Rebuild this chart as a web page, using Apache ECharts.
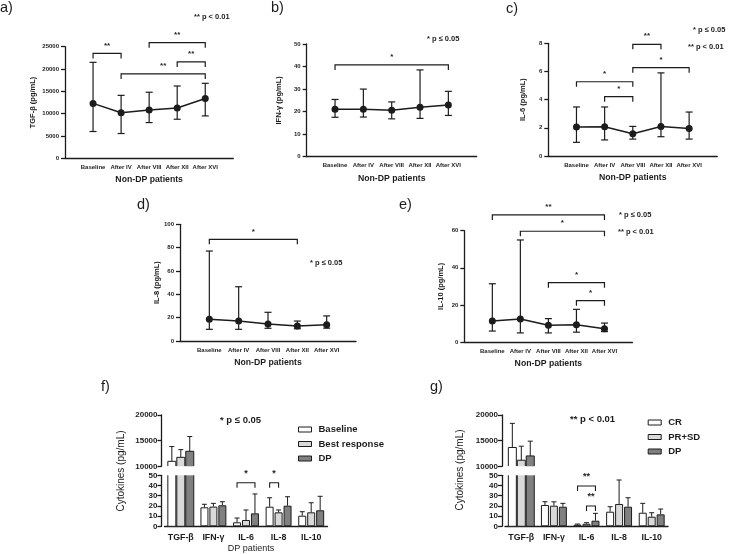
<!DOCTYPE html>
<html>
<head>
<meta charset="utf-8">
<script src="https://cdn.jsdelivr.net/npm/echarts@6/dist/echarts.min.js"></script>
<style>
  html, body { margin: 0; background: #fff; }
  #chart { width: 729px; height: 554px; }
</style>
</head>
<body>
<div id="chart"></div>
<script>
// time points of the non-DP follow-up
const timepoints = ['Baseline', 'After IV', 'After VIII', 'After XII', 'After XVI'];

// a) TGF-beta
const tgfMean = [12300, 10200, 10800, 11250, 13400];
const tgfLow = [6000, 5550, 8000, 8750, 9500];
const tgfHigh = [21500, 14100, 14800, 16200, 16800];
const tgfBrackets = [[1, 2, 23500, '**'], [3, 5, 25900, '**'], [4, 5, 21600, '**'], [2, 5, 18900, '**']];

// b) IFN-gamma
const ifnMean = [21.0, 21.1, 20.6, 21.9, 22.9];
const ifnLow = [17.5, 17.6, 16.8, 17.0, 18.3];
const ifnHigh = [25.4, 30.0, 24.3, 38.5, 29.0];
const ifnBrackets = [[1, 5, 40.7, '*']];

// c) IL-6
const il6Mean = [2.05, 2.08, 1.58, 2.1, 1.95];
const il6Low = [0.97, 1.14, 1.2, 1.37, 1.2];
const il6High = [3.48, 3.48, 2.1, 5.9, 3.12];
const il6Brackets = [[1, 3, 5.27, '*'], [2, 3, 4.21, '*'], [3, 4, 7.93, '**'], [3, 5, 6.27, '*']];

// d) IL-8
const il8Mean = [18.6, 17.2, 14.6, 12.9, 14.0];
const il8Low = [10.0, 10.0, 10.9, 10.5, 11.0];
const il8High = [77.1, 46.5, 24.6, 17.1, 21.5];
const il8Brackets = [[1, 4, 87.1, '*']];

// e) IL-10
const il10Mean = [11.3, 12.4, 9.0, 9.3, 7.2];
const il10Low = [5.9, 4.9, 4.9, 5.3, 5.6];
const il10High = [31.4, 55.0, 12.6, 17.6, 10.2];
const il10Brackets = [[1, 5, 68.5, '**'], [2, 5, 59.7, '*'], [3, 5, 32.0, '*'], [4, 5, 22.3, '*']];

// f) / g) bar panels
const cytokines = ['TGF-β', 'IFN-γ', 'IL-6', 'IL-8', 'IL-10'];
const upperRange = [10000, 20000];
const lowerRange = [0, 50];

const fNames = ['Baseline', 'Best response', 'DP'];
const fBaseline = [10970, 18.6, 3.9, 19.2, 10.4];
const fBaselineErr = [13850, 21.6, 8.1, 28.0, 14.3];
const fBest = [11750, 19.3, 6.2, 13.7, 13.7];
const fBestErr = [13250, 22.5, 16.0, 16.0, 23.1];
const fDP = [12930, 20.6, 12.7, 20.2, 15.7];
const fDPErr = [15800, 24.1, 31.7, 29.0, 29.4];
const fBrackets = [[2, 0, 2, 42.7, '*'], [3, 0, 1, 42.7, '*']];

const gNames = ['CR', 'PR+SD', 'DP'];
const gCR = [13670, 20.9, 1.6, 14.3, 13.3];
const gCRErr = [18370, 24.1, 2.2, 19.2, 22.5];
const gPRSD = [11180, 20.2, 2.5, 21.9, 9.4];
const gPRSDErr = [13920, 24.0, 3.5, 45.4, 13.3];
const gDP = [12020, 19.2, 5.5, 19.2, 11.7];
const gDPErr = [14900, 22.5, 12.7, 28.0, 16.9];
const gBrackets = [[2, 0, 2, 39.5, '**'], [2, 1, 2, 19.9, '**']];

const ink = '#1c1c1c';
const fam = "'Liberation Sans', Arial, sans-serif";
const barFills = ['#ffffff', '#d9d9d9', '#808080'];
const barW = 8;
const barGap = '12%';

const linePanels = [
  { grid: { left: 65, top: 46.7, width: 168.3, height: 111.6 }, name: 'TGF-β (pg/mL)', max: 25000, step: 5000, nameGap: 28,
    mean: tgfMean, low: tgfLow, high: tgfHigh, brackets: tgfBrackets },
  { grid: { left: 306.7, top: 44, width: 170, height: 112.7 }, name: 'IFN-γ (pg/mL)', max: 50, step: 10, nameGap: 24,
    mean: ifnMean, low: ifnLow, high: ifnHigh, brackets: ifnBrackets },
  { grid: { left: 548.3, top: 43.3, width: 169, height: 112.7 }, name: 'IL-6 (pg/mL)', max: 8, step: 2, nameGap: 21,
    mean: il6Mean, low: il6Low, high: il6High, brackets: il6Brackets },
  { grid: { left: 180, top: 224.3, width: 176, height: 116.7 }, name: 'IL-8 (pg/mL)', max: 100, step: 20, nameGap: 19,
    mean: il8Mean, low: il8Low, high: il8High, brackets: il8Brackets },
  { grid: { left: 464.3, top: 230.7, width: 168.2, height: 111.3 }, name: 'IL-10 (pg/mL)', max: 60, step: 20, nameGap: 19,
    mean: il10Mean, low: il10Low, high: il10High, brackets: il10Brackets }
];

const barPanels = [
  { left: 164.5, names: fNames, values: [fBaseline, fBest, fDP], errs: [fBaselineErr, fBestErr, fDPErr], brackets: fBrackets, xName: 'DP patients' },
  { left: 505, names: gNames, values: [gCR, gPRSD, gDP], errs: [gCRErr, gPRSDErr, gDPErr], brackets: gBrackets, xName: '' }
];

const axisLine = { show: true, onZero: false, lineStyle: { color: ink, width: 1.3 } };
const tickStyle = { show: true, length: 4, lineStyle: { color: ink, width: 1.3 } };
const plain = v => String(v);

const grids = [], xAxes = [], yAxes = [], series = [];

function line(x1, y1, x2, y2, w) {
  return { type: 'line', shape: { x1, y1, x2, y2 }, style: { stroke: ink, lineWidth: w } };
}

// line panels a-e
linePanels.forEach((p, i) => {
  grids.push(Object.assign({ outerBoundsMode: 'none', containLabel: false }, p.grid));
  xAxes.push({
    type: 'value', gridIndex: i, min: 0, max: 6, interval: 1,
    name: 'Non-DP patients', nameLocation: 'middle', nameGap: 17, nameMoveOverlap: false,
    nameTextStyle: { fontFamily: fam, fontSize: 8.7, fontWeight: 'bold', color: ink },
    axisLine, axisTick: { show: false }, splitLine: { show: false },
    axisLabel: { formatter: v => timepoints[v - 1] || '', fontFamily: fam, fontSize: 6, fontWeight: 'bold', color: ink, margin: 6, hideOverlap: false }
  });
  yAxes.push({
    type: 'value', gridIndex: i, min: 0, max: p.max, interval: p.step,
    name: p.name, nameLocation: 'middle', nameGap: p.nameGap, nameMoveOverlap: false,
    nameTextStyle: { fontFamily: fam, fontSize: 7.5, fontWeight: 'bold', color: ink },
    axisLine, axisTick: tickStyle, splitLine: { show: false },
    axisLabel: { formatter: plain, fontFamily: fam, fontSize: 6, fontWeight: 'bold', color: ink, margin: 6 }
  });
  series.push({
    type: 'line', xAxisIndex: i, yAxisIndex: i, z: 3, silent: true,
    data: p.mean.map((v, k) => [k + 1, v]),
    symbol: 'circle', symbolSize: 7,
    lineStyle: { color: ink, width: 1.5 }, itemStyle: { color: ink }
  });
  series.push({
    type: 'custom', xAxisIndex: i, yAxisIndex: i, z: 2, silent: true, clip: false,
    data: p.mean.map((v, k) => [k + 1, p.low[k], p.high[k]]),
    renderItem(params, api) {
      const lo = api.coord([api.value(0), api.value(1)]);
      const hi = api.coord([api.value(0), api.value(2)]);
      return { type: 'group', children: [
        line(lo[0], lo[1], hi[0], hi[1], 1.2),
        line(lo[0] - 3.5, lo[1], lo[0] + 3.5, lo[1], 1.2),
        line(hi[0] - 3.5, hi[1], hi[0] + 3.5, hi[1], 1.2)
      ] };
    }
  });
  series.push({
    type: 'custom', xAxisIndex: i, yAxisIndex: i, z: 4, silent: true, clip: false,
    data: p.brackets.map(b => [b[0], b[2], b[1]]),
    renderItem(params, api) {
      const b = p.brackets[params.dataIndex];
      const p1 = api.coord([b[0], b[2]]);
      const p2 = api.coord([b[1], b[2]]);
      return { type: 'group', children: [
        { type: 'polyline', shape: { points: [[p1[0], p1[1] + 5], p1, p2, [p2[0], p2[1] + 5]] },
          style: { stroke: ink, lineWidth: 1.2, fill: null } },
        { type: 'text', x: (p1[0] + p2[0]) / 2, y: p1[1] - 8,
          style: { text: b[3], fill: ink, font: 'bold 8px ' + fam, align: 'center', verticalAlign: 'middle' } }
      ] };
    }
  });
});

// bar panels f, g (broken y axis: upper and lower ranges)
barPanels.forEach((bp, j) => {
  const top = 5 + j * 2, bot = top + 1;
  grids.push({ left: bp.left, top: 415, width: 163, height: 51.3, outerBoundsMode: 'none', containLabel: false });
  grids.push({ left: bp.left, top: 475.3, width: 163, height: 51, outerBoundsMode: 'none', containLabel: false });
  xAxes.push({ type: 'category', gridIndex: top, data: cytokines, show: false });
  xAxes.push({
    type: 'category', gridIndex: bot, data: cytokines,
    name: bp.xName, nameLocation: 'middle', nameGap: 18, nameMoveOverlap: false,
    nameTextStyle: { fontFamily: fam, fontSize: 9, color: ink, padding: [0, 0, 0, 10] },
    axisLine, axisTick: { show: false },
    axisLabel: { fontFamily: fam, fontSize: 8.8, fontWeight: 'bold', color: ink, margin: 7, interval: 0 }
  });
  const yBase = {
    type: 'value', offset: 3, axisLine, axisTick: tickStyle, splitLine: { show: false },
    axisLabel: { formatter: plain, fontFamily: fam, fontSize: 8, fontWeight: 'bold', color: ink, margin: 4 }
  };
  yAxes.push(Object.assign({ gridIndex: top, min: upperRange[0], max: upperRange[1], interval: 5000 }, yBase));
  yAxes.push(Object.assign({ gridIndex: bot, min: lowerRange[0], max: lowerRange[1], interval: 10 }, yBase));

  bp.names.forEach((nm, k) => {
    const vals = bp.values[k], errs = bp.errs[k];
    const barStyle = { color: barFills[k], borderColor: ink, borderWidth: 1 };
    // the broken TGF-beta bar gets its outline from the custom series below (open at the break)
    const open = v => ({ value: v, itemStyle: { borderWidth: 0 } });
    series.push({
      type: 'bar', name: nm, xAxisIndex: top, yAxisIndex: top, barWidth: barW, barGap, clip: true, silent: true,
      itemStyle: barStyle, data: vals.map((v, i) => (i === 0 ? open(v) : '-'))
    });
    series.push({
      type: 'bar', name: nm, xAxisIndex: bot, yAxisIndex: bot, barWidth: barW, barGap, clip: true, silent: true,
      itemStyle: barStyle, data: vals.map((v, i) => (i === 0 ? open(v) : v))
    });
    // upper part: outline + whisker of the broken bar
    series.push({
      type: 'custom', xAxisIndex: top, yAxisIndex: top, z: 3, silent: true, clip: true,
      data: [[0, vals[0], errs[0]]],
      renderItem(params, api) {
        const lay = api.barLayout({ count: 3, barWidth: barW, barGap })[k];
        const base = api.coord([api.value(0), api.value(1)]);
        const tip = api.coord([api.value(0), api.value(2)]);
        const floor = api.coord([api.value(0), upperRange[0]])[1];
        const x0 = base[0] + lay.offset, x1 = x0 + lay.width, x = base[0] + lay.offsetCenter;
        return { type: 'group', children: [
          { type: 'polyline', shape: { points: [[x0, floor], [x0, base[1]], [x1, base[1]], [x1, floor]] },
            style: { stroke: ink, lineWidth: 1, fill: null } },
          line(x, base[1], x, tip[1], 1),
          line(x - 2.5, tip[1], x + 2.5, tip[1], 1)
        ] };
      }
    });
    // lower part: side outline of the broken bar
    series.push({
      type: 'custom', xAxisIndex: bot, yAxisIndex: bot, z: 3, silent: true, clip: false,
      data: [[0, lowerRange[0], lowerRange[1]]],
      renderItem(params, api) {
        const lay = api.barLayout({ count: 3, barWidth: barW, barGap })[k];
        const lo = api.coord([api.value(0), api.value(1)]);
        const hi = api.coord([api.value(0), api.value(2)]);
        const x0 = lo[0] + lay.offset, x1 = x0 + lay.width;
        return { type: 'polyline', shape: { points: [[x0, hi[1]], [x0, lo[1]], [x1, lo[1]], [x1, hi[1]]] },
          style: { stroke: ink, lineWidth: 1, fill: null } };
      }
    });
    // lower part: whiskers
    series.push({
      type: 'custom', xAxisIndex: bot, yAxisIndex: bot, z: 3, silent: true, clip: true,
      data: [1, 2, 3, 4].map(i => [i, vals[i], errs[i]]),
      renderItem(params, api) {
        const lay = api.barLayout({ count: 3, barWidth: barW, barGap })[k];
        const base = api.coord([api.value(0), api.value(1)]);
        const tip = api.coord([api.value(0), api.value(2)]);
        const x = base[0] + lay.offsetCenter;
        return { type: 'group', children: [
          line(x, base[1], x, tip[1], 1),
          line(x - 2.5, tip[1], x + 2.5, tip[1], 1)
        ] };
      }
    });
  });

  series.push({
    type: 'custom', xAxisIndex: bot, yAxisIndex: bot, z: 4, silent: true, clip: false,
    data: bp.brackets.map(b => [b[0], b[3]]),
    renderItem(params, api) {
      const b = bp.brackets[params.dataIndex];
      const lay = api.barLayout({ count: 3, barWidth: barW, barGap });
      const c = api.coord([b[0], b[3]]);
      const xa = c[0] + lay[b[1]].offsetCenter, xb = c[0] + lay[b[2]].offsetCenter;
      return { type: 'group', children: [
        { type: 'polyline', shape: { points: [[xa, c[1] + 5], [xa, c[1]], [xb, c[1]], [xb, c[1] + 5]] },
          style: { stroke: ink, lineWidth: 1.1, fill: null } },
        { type: 'text', x: (xa + xb) / 2, y: c[1] - 9,
          style: { text: b[4], fill: ink, font: 'bold 9px ' + fam, align: 'center', verticalAlign: 'middle' } }
      ] };
    }
  });
});

function label(text, x, y, size, weight) {
  return { type: 'text', x, y, silent: true,
    style: { text, fill: ink, font: (weight || 'bold') + ' ' + size + 'px ' + fam, verticalAlign: 'middle' } };
}

const graphics = [
  label('a)', 0, 8, 14.5, 'normal'),
  label('b)', 271, 8, 14.5, 'normal'),
  label('c)', 506, 9, 14.5, 'normal'),
  label('d)', 137, 205, 14.5, 'normal'),
  label('e)', 399, 205, 14.5, 'normal'),
  label('f)', 101, 386.5, 14.5, 'normal'),
  label('g)', 430, 386.5, 14.5, 'normal'),
  label('** p < 0.01', 194, 17, 7.5),
  label('* p ≤ 0.05', 427, 39, 7.5),
  label('* p ≤ 0.05', 693, 30, 7.5),
  label('** p < 0.01', 688, 46.7, 7.5),
  label('* p ≤ 0.05', 310, 263.3, 7.5),
  label('* p ≤ 0.05', 619, 215, 7.5),
  label('** p < 0.01', 618, 232.3, 7.5),
  label('* p ≤ 0.05', 220, 420.7, 9.5),
  label('** p < 0.01', 570, 419.3, 9.5),
  { type: 'text', x: 121.7, y: 471, rotation: Math.PI / 2, silent: true,
    style: { text: 'Cytokines (pg/mL)', fill: ink, font: '10px ' + fam, align: 'center', verticalAlign: 'middle' } },
  { type: 'text', x: 460, y: 470, rotation: Math.PI / 2, silent: true,
    style: { text: 'Cytokines (pg/mL)', fill: ink, font: '10px ' + fam, align: 'center', verticalAlign: 'middle' } }
];

const legendBase = {
  orient: 'vertical', icon: 'rect', itemWidth: 13, itemHeight: 5, itemGap: 4.5, selectedMode: false,
  itemStyle: { borderColor: ink, borderWidth: 1 },
  textStyle: { fontFamily: fam, fontSize: 9.5, fontWeight: 'bold', color: ink, padding: [0, 0, 0, 2] }
};

const chart = echarts.init(document.getElementById('chart'), null, { renderer: 'canvas' });
chart.setOption({
  animation: false,
  backgroundColor: '#fff',
  textStyle: { fontFamily: fam },
  grid: grids,
  xAxis: xAxes,
  yAxis: yAxes,
  legend: [
    Object.assign({ left: 293, top: 419.5, data: fNames }, legendBase),
    Object.assign({ left: 642.7, top: 412.5, data: gNames }, legendBase)
  ],
  graphic: graphics,
  series
});
</script>
</body>
</html>
